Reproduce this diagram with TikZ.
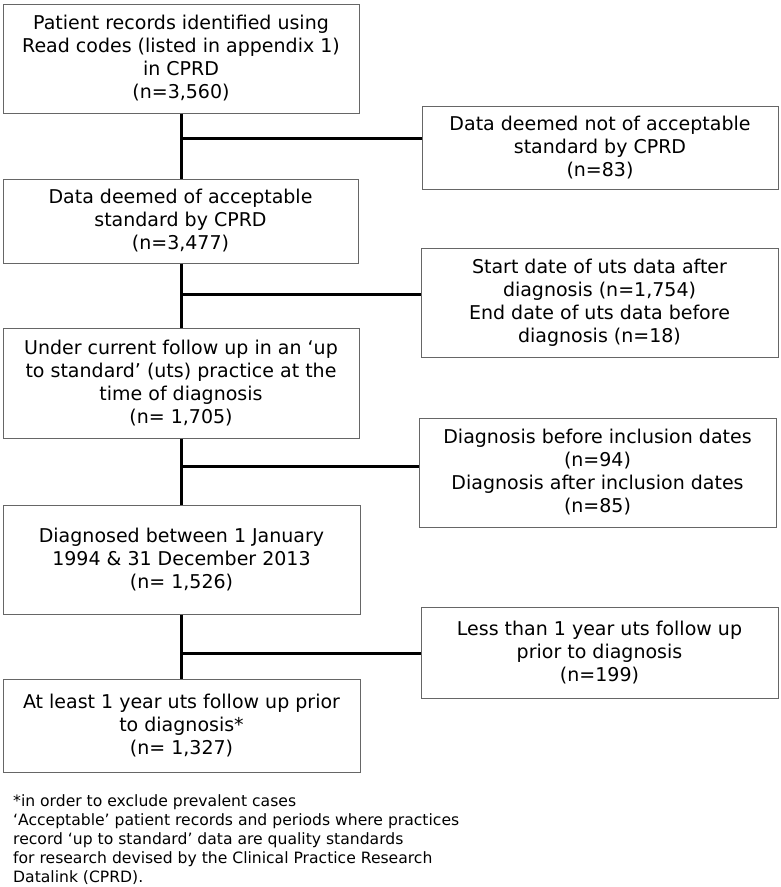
\documentclass[tikz,border=0pt]{standalone}
\usepackage{fontspec}
\setmainfont{DejaVu Sans}
\definecolor{boxgray}{HTML}{666666}
\begin{document}
\begin{tikzpicture}[x=1pt,y=-1pt,
  box/.style={draw=boxgray, line width=1pt, inner sep=0pt, align=center,
    font=\fontsize{19}{23}\selectfont, text=black},
  conn/.style={line width=3pt, black},
  note/.style={anchor=north west, inner sep=0pt, align=left,
    font=\fontsize{15.6}{19.2}\selectfont, text=black}]
\useasboundingbox (0,0) rectangle (780,887);
% main column
\node[box, minimum width=356pt, minimum height=109pt] (b1) at (181,58.5)
  {Patient records identified using\\Read codes (listed in appendix 1)\\in CPRD\\(n=3,560)};
\node[box, minimum width=355pt, minimum height=84pt] (b2) at (180.5,221)
  {Data deemed of acceptable\\standard by CPRD\\(n=3,477)};
\node[box, minimum width=356pt, minimum height=110pt] (b3) at (181,383)
  {Under current follow up in an ‘up\\to standard’ (uts) practice at the\\time of diagnosis\\(n= 1,705)};
\node[box, minimum width=357pt, minimum height=109pt] (b4) at (181.5,559.5)
  {Diagnosed between 1 January\\1994 \& 31 December 2013\\(n= 1,526)};
\node[box, minimum width=357pt, minimum height=93pt] (b5) at (181.5,725.5)
  {At least 1 year uts follow up prior\\to diagnosis*\\(n= 1,327)};
% exclusion boxes
\node[box, minimum width=356pt, minimum height=83pt] (r1) at (600,147.5)
  {Data deemed not of acceptable\\standard by CPRD\\(n=83)};
\node[box, minimum width=357pt, minimum height=109pt] (r2) at (599.5,302.5)
  {Start date of uts data after\\diagnosis (n=1,754)\\End date of uts data before\\diagnosis (n=18)};
\node[box, minimum width=357pt, minimum height=109pt] (r3) at (597.5,472.5)
  {Diagnosis before inclusion dates\\(n=94)\\Diagnosis after inclusion dates\\(n=85)};
\node[box, minimum width=357pt, minimum height=91pt] (r4) at (599.5,652.5)
  {Less than 1 year uts follow up\\prior to diagnosis\\(n=199)};
% junctions
\coordinate (j1) at (181,138);
\coordinate (j2) at (181,294);
\coordinate (j3) at (181,466);
\coordinate (j4) at (181,653);
% trunk
\draw[conn] (b1.south -| j1) -- (b2.north -| j1);
\draw[conn] (b2.south -| j1) -- (b3.north -| j1);
\draw[conn] (b3.south -| j1) -- (b4.north -| j1);
\draw[conn] (b4.south -| j1) -- (b5.north -| j1);
% branches
\draw[conn] (j1) -- (j1 -| r1.west);
\draw[conn] (j2) -- (j2 -| r2.west);
\draw[conn] (j3) -- (j3 -| r3.west);
\draw[conn] (j4) -- (j4 -| r4.west);
% footnote
\node[note] (fn) at (13,794)
  {*in order to exclude prevalent cases\\
   ‘Acceptable’ patient records and periods where practices\\
   record ‘up to standard’ data are quality standards\\
   for research devised by the Clinical Practice Research\\
   Datalink (CPRD).};
\end{tikzpicture}
\end{document}
